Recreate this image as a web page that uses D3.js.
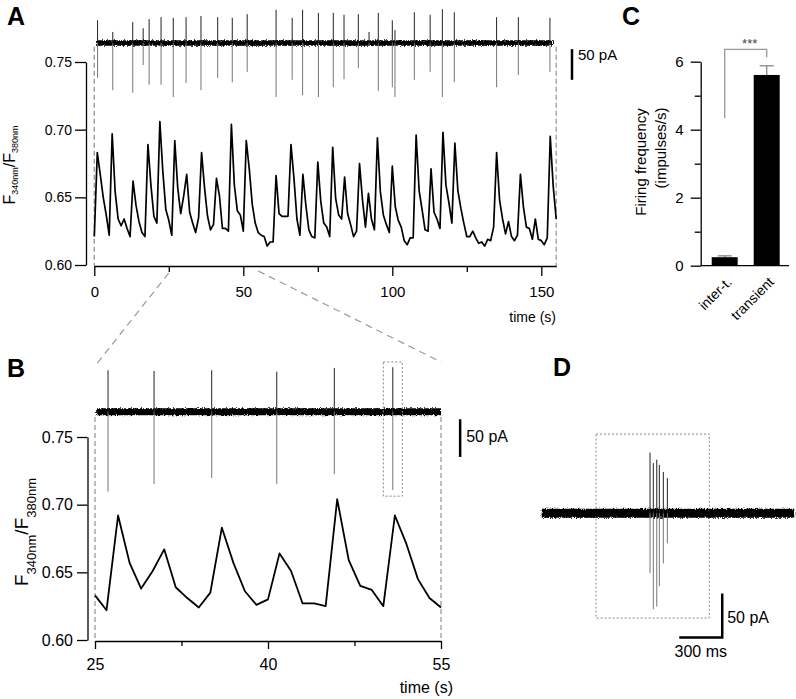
<!DOCTYPE html>
<html>
<head>
<meta charset="utf-8">
<script src="https://cdn.jsdelivr.net/npm/d3@7"></script>
<style>
  body { margin: 0; background: #fff; }
  svg { display: block; }
</style>
</head>
<body>
<svg id="fig" width="796" height="699"></svg>
<script>
// ---- data ----
// Fura-2 ratio, one sample per second, t = 0..155 s
const caRatio = [
  0.621, 0.683, 0.667, 0.650, 0.637, 0.622, 0.697, 0.654, 0.634, 0.629,
  0.634, 0.627, 0.621, 0.662, 0.644, 0.632, 0.624, 0.621, 0.689, 0.659,
  0.636, 0.631, 0.706, 0.669, 0.641, 0.633, 0.622, 0.692, 0.657, 0.638,
  0.651, 0.667, 0.639, 0.631, 0.624, 0.635, 0.683, 0.657, 0.636, 0.626,
  0.630, 0.664, 0.651, 0.627, 0.627, 0.625, 0.704, 0.659, 0.640, 0.637,
  0.625, 0.692, 0.671, 0.645, 0.631, 0.624, 0.622, 0.621, 0.614, 0.617,
  0.617, 0.666, 0.638, 0.636, 0.636, 0.636, 0.689, 0.664, 0.634, 0.622,
  0.667, 0.644, 0.626, 0.621, 0.620, 0.676, 0.647, 0.631, 0.628, 0.621,
  0.687, 0.649, 0.637, 0.634, 0.665, 0.638, 0.630, 0.621, 0.625, 0.675,
  0.648, 0.628, 0.653, 0.634, 0.626, 0.694, 0.654, 0.637, 0.630, 0.624,
  0.673, 0.643, 0.633, 0.628, 0.618, 0.615, 0.620, 0.620, 0.696, 0.655,
  0.641, 0.626, 0.625, 0.671, 0.639, 0.634, 0.627, 0.698, 0.659, 0.646,
  0.631, 0.690, 0.655, 0.642, 0.631, 0.621, 0.621, 0.625, 0.620, 0.616,
  0.617, 0.614, 0.619, 0.618, 0.628, 0.683, 0.648, 0.634, 0.623, 0.632,
  0.621, 0.618, 0.622, 0.667, 0.643, 0.628, 0.627, 0.619, 0.634, 0.619,
  0.618, 0.615, 0.620, 0.695, 0.658, 0.634
];

// cell-attached spikes in A (s, pA above / below baseline)
const aSpikeTime = [1.1, 6.2, 12.9, 16.4, 18.4, 22.4, 26.5, 30.8, 35.8, 41.4,
  46.3, 51.3, 61.0, 66.4, 69.9, 75.2, 80.2, 83.8, 88.6, 92.2,
  95.3, 100.0, 100.9, 107.4, 112.7, 116.8, 120.8, 135.0, 142.3, 152.9];
const aSpikeUp = [37, 18, 34, 24, 39, 42, 41, 42, 44, 42, 41, 47, 54, 41, 54,
  49, 49, 46, 47, 18, 49, 37, 21, 50, 46, 55, 50, 42, 42, 41];
const aSpikeDown = [57, 77, 81, 36, 68, 68, 88, 65, 77, 57, 64, 47, 88, 60, 85,
  88, 72, 59, 41, 5, 78, 72, 88, 60, 47, 88, 64, 72, 52, 47];
const aTraceSpan = [0.6, 153.9];

// B: zoom 25-55 s
const bWindow = [25, 55];
const bSpikeTime = [26.13, 30.12, 35.12, 40.76, 45.75, 50.82];
const bSpikeUp = [55, 54, 55, 53, 58, 59];
const bSpikeDown = [106, 96, 88, 96, 83, 104];
const bTraceSpan = [25.1, 55];

// C: firing frequency
const cCats = ['inter-t.', 'transient'];
const cMean = [0.25, 5.61];
const cSem = [0.04, 0.27];

// D: single burst (ms, pA)
const dSpikeTime = [756, 779, 803, 821, 849, 877];
const dSpikeUp = [69, 57, 61, 55, 47, 40];
const dSpikeDown = [68, 109, 106, 83, 57, 34];
const dTraceSpan = [0, 1763];

const aTicks = [0, 50, 100, 150], aMinor = [25, 75, 125];
const bTicks = [25, 40, 55], bMinor = [32.5, 47.5];
const ratioTicks = [0.60, 0.65, 0.70, 0.75];
const cTicks = [0, 2, 4, 6], cMinor = [1, 3, 5];

// ---- drawing ----
const font = '"Liberation Sans", Arial, Helvetica, sans-serif';
const svg = d3.select('#fig').attr('font-family', font);
const grey = '#999';

// rough edge for the noisy current baselines
const filt = svg.append('defs').append('filter').attr('id', 'noisy')
  .attr('filterUnits', 'userSpaceOnUse')
  .attr('x', 0).attr('y', 0).attr('width', 796).attr('height', 699);
filt.append('feTurbulence').attr('type', 'fractalNoise')
  .attr('baseFrequency', '0.9 0.6').attr('numOctaves', 2).attr('seed', 3)
  .attr('result', 'n');
filt.append('feDisplacementMap').attr('in', 'SourceGraphic').attr('in2', 'n')
  .attr('scale', 4).attr('xChannelSelector', 'R').attr('yChannelSelector', 'G');

function styleAxis(g, size) {
  g.attr('font-family', font).attr('font-size', size);
  g.select('.domain').attr('stroke', '#000').attr('stroke-width', 1.3);
  g.selectAll('.tick line').attr('stroke', '#000').attr('stroke-width', 1.3);
  g.selectAll('.tick text').attr('fill', '#000');
}

function panelLabel(txt, x, y) {
  svg.append('text').attr('x', x).attr('y', y)
    .style('font-size', '25px').style('font-weight', 'bold').text(txt);
}

function drawCurrent(x, y, span, times, up, down, width) {
  svg.append('line')
    .attr('x1', x(span[0])).attr('x2', x(span[1]))
    .attr('y1', y(0)).attr('y2', y(0))
    .attr('stroke', '#000').attr('stroke-width', width)
    .attr('filter', 'url(#noisy)');
  times.forEach((t, i) => {
    svg.append('line').attr('x1', x(t)).attr('x2', x(t))
      .attr('y1', y(0)).attr('y2', y(up[i]))
      .attr('stroke', '#222').attr('stroke-width', 1);
    svg.append('line').attr('x1', x(t)).attr('x2', x(t))
      .attr('y1', y(0)).attr('y2', y(-down[i]))
      .attr('stroke', '#777').attr('stroke-width', 1);
  });
}

function scaleBarV(x, y, t, pA0, pA1, label, size, dx, dy) {
  svg.append('line').attr('x1', x(t)).attr('x2', x(t))
    .attr('y1', y(pA0)).attr('y2', y(pA1))
    .attr('stroke', '#000').attr('stroke-width', 2.5);
  svg.append('text').attr('x', x(t) + dx).attr('y', y(pA0) + dy)
    .style('font-size', size + 'px').text(label);
}

// ===== Panel A =====
const xA = d3.scaleLinear().domain([0, 155]).range([94.3, 556.2]);
const yA = d3.scaleLinear().domain([0.60, 0.75]).range([265, 62]);
const yAcur = d3.scaleLinear().domain([-50, 50]).range([43 + 30.7, 43 - 30.7]);

panelLabel('A', 7, 25);

// recording extent
[0, 155].forEach(t => {
  svg.append('line').attr('x1', xA(t)).attr('x2', xA(t))
    .attr('y1', yAcur(-6)).attr('y2', 266)
    .attr('stroke', grey).attr('stroke-width', 1.3).attr('stroke-dasharray', '5,3');
});

drawCurrent(xA, yAcur, aTraceSpan, aSpikeTime, aSpikeUp, aSpikeDown, 5.5);
scaleBarV(xA, yAcur, 160.3, -10, -60, '50 pA', 15, 6, 11);

svg.append('path')
  .datum(caRatio)
  .attr('fill', 'none').attr('stroke', '#000').attr('stroke-width', 1.7)
  .attr('stroke-linejoin', 'round')
  .attr('d', d3.line().x((d, i) => xA(i)).y(d => yA(d)));

const gAy = svg.append('g').attr('transform', 'translate(86,0)')
  .call(d3.axisLeft(yA).tickValues(ratioTicks).tickFormat(d3.format('.2f'))
    .tickSize(11).tickPadding(3).tickSizeOuter(0));
styleAxis(gAy, 14);

const gAx = svg.append('g').attr('transform', 'translate(0,266)')
  .call(d3.axisBottom(xA).tickValues(aTicks).tickSize(10).tickPadding(10).tickSizeOuter(0));
styleAxis(gAx, 15);
const gAxm = svg.append('g').attr('transform', 'translate(0,266)')
  .call(d3.axisBottom(xA).tickValues(aMinor).tickSize(6).tickFormat(''));
gAxm.select('.domain').remove();
styleAxis(gAxm, 14);

svg.append('text').attr('x', 556).attr('y', 322).attr('text-anchor', 'end')
  .style('font-size', '14px').text('time (s)');

const aLab = svg.append('text').attr('transform', 'translate(15,165) rotate(-90)')
  .attr('text-anchor', 'middle').style('font-size', '16px');
aLab.append('tspan').text('F');
aLab.append('tspan').attr('dy', 3.3).style('font-size', '9px').text('340nm');
aLab.append('tspan').attr('dy', -3.3).text('/F');
aLab.append('tspan').attr('dy', 3.3).style('font-size', '9px').text('380nm');

// ===== Panel B =====
const xB = d3.scaleLinear().domain(bWindow).range([95, 441]);
const yB = d3.scaleLinear().domain([0.60, 0.75]).range([640, 437]);
const yBcur = d3.scaleLinear().domain([-100, 100]).range([411.7 + 75.4, 411.7 - 75.4]);

// zoom guides from A
svg.append('line').attr('x1', xA(bWindow[0])).attr('y1', 273)
  .attr('x2', xB(bWindow[0])).attr('y2', 366)
  .attr('stroke', grey).attr('stroke-width', 1.2).attr('stroke-dasharray', '7,5');
svg.append('line').attr('x1', xA(bWindow[1])).attr('y1', 271)
  .attr('x2', xB(bWindow[1])).attr('y2', 362)
  .attr('stroke', grey).attr('stroke-width', 1.2).attr('stroke-dasharray', '7,5');

panelLabel('B', 7, 377);

bWindow.forEach(t => {
  svg.append('line').attr('x1', xB(t)).attr('x2', xB(t))
    .attr('y1', yBcur(-7)).attr('y2', 641)
    .attr('stroke', grey).attr('stroke-width', 1.3).attr('stroke-dasharray', '5,3');
});

drawCurrent(xB, yBcur, bTraceSpan, bSpikeTime, bSpikeUp, bSpikeDown, 7);
scaleBarV(xB, yBcur, 56.66, -10, -60, '50 pA', 16, 6, 23);

// dotted box around the last spike
svg.append('rect')
  .attr('x', xB(50.0)).attr('y', yBcur(66))
  .attr('width', xB(51.65) - xB(50.0)).attr('height', yBcur(-112) - yBcur(66))
  .attr('fill', 'none').attr('stroke', '#888').attr('stroke-width', 1)
  .attr('stroke-dasharray', '2,2');

const bIdx = d3.range(bWindow[0], bWindow[1] + 1);
svg.append('path')
  .datum(bIdx)
  .attr('fill', 'none').attr('stroke', '#000').attr('stroke-width', 1.8)
  .attr('stroke-linejoin', 'round')
  .attr('d', d3.line().x(t => xB(t)).y(t => yB(caRatio[t])));

const gBy = svg.append('g').attr('transform', 'translate(87.5,0)')
  .call(d3.axisLeft(yB).tickValues(ratioTicks).tickFormat(d3.format('.2f'))
    .tickSize(10.5).tickPadding(4).tickSizeOuter(0));
styleAxis(gBy, 16);

const gBx = svg.append('g').attr('transform', 'translate(0,641)')
  .call(d3.axisBottom(xB).tickValues(bTicks).tickSize(8).tickPadding(9.5).tickSizeOuter(0));
styleAxis(gBx, 16);
const gBxm = svg.append('g').attr('transform', 'translate(0,641)')
  .call(d3.axisBottom(xB).tickValues(bMinor).tickSize(5).tickFormat(''));
gBxm.select('.domain').remove();
styleAxis(gBxm, 16);

svg.append('text').attr('x', 453).attr('y', 693).attr('text-anchor', 'end')
  .style('font-size', '16px').text('time (s)');

const bLab = svg.append('text').attr('transform', 'translate(28,532) rotate(-90)')
  .attr('text-anchor', 'middle').style('font-size', '19px');
bLab.append('tspan').text('F');
bLab.append('tspan').attr('dy', 8).style('font-size', '13px').text('340nm');
bLab.append('tspan').attr('dy', -8).text('/F');
bLab.append('tspan').attr('dy', 8).style('font-size', '13px').text('380nm');

// ===== Panel C =====
const xC = d3.scalePoint().domain(cCats).range([724.7, 766.7]);
const yC = d3.scaleLinear().domain([0, 6]).range([265.7, 61.7]);
const barW = 26;

panelLabel('C', 622, 25);

// significance bracket
svg.append('path')
  .attr('d', `M${xC(cCats[0])},${yC(4.34)}V${yC(6.36)}H${xC(cCats[1])}V${yC(6.13)}`)
  .attr('fill', 'none').attr('stroke', grey).attr('stroke-width', 1.3);
svg.append('text')
  .attr('x', (xC(cCats[0]) + xC(cCats[1])) / 2 + 4).attr('y', 48)
  .attr('text-anchor', 'middle').attr('fill', '#444')
  .style('font-size', '13px').text('***');

// error bars
cCats.forEach((c, i) => {
  const x = xC(c);
  svg.append('line').attr('x1', x).attr('x2', x)
    .attr('y1', yC(cMean[i])).attr('y2', yC(cMean[i] + cSem[i]))
    .attr('stroke', '#888').attr('stroke-width', 1.3);
  svg.append('line').attr('x1', x - 7).attr('x2', x + 7)
    .attr('y1', yC(cMean[i] + cSem[i])).attr('y2', yC(cMean[i] + cSem[i]))
    .attr('stroke', '#888').attr('stroke-width', 1.3);
});

svg.selectAll('.cbar')
  .data(cCats)
  .enter()
  .append('rect')
  .attr('class', 'cbar')
  .attr('x', d => xC(d) - barW / 2)
  .attr('y', (d, i) => yC(cMean[i]))
  .attr('width', barW)
  .attr('height', (d, i) => yC(0) - yC(cMean[i]))
  .attr('fill', '#000');

const gCy = svg.append('g').attr('transform', 'translate(700.7,0)')
  .call(d3.axisLeft(yC).tickValues(cTicks).tickFormat(d3.format('d'))
    .tickSize(10).tickPadding(7).tickSizeOuter(0));
styleAxis(gCy, 15);
const gCym = svg.append('g').attr('transform', 'translate(700.7,0)')
  .call(d3.axisLeft(yC).tickValues(cMinor).tickSize(6).tickFormat(''));
gCym.select('.domain').remove();
styleAxis(gCym, 15);

svg.append('line').attr('x1', 700.7).attr('x2', 789)
  .attr('y1', yC(0)).attr('y2', yC(0))
  .attr('stroke', '#000').attr('stroke-width', 1.3);

cCats.forEach(c => {
  svg.append('text')
    .attr('transform', `translate(${xC(c) + 8},283) rotate(-45)`)
    .attr('text-anchor', 'end').style('font-size', '14px').text(c);
});

svg.append('text').attr('transform', 'translate(646,162) rotate(-90)')
  .attr('text-anchor', 'middle').style('font-size', '15px').text('Firing frequency');
svg.append('text').attr('transform', 'translate(666,148) rotate(-90)')
  .attr('text-anchor', 'middle').style('font-size', '15px').text('(impulses/s)');

// ===== Panel D =====
const xD = d3.scaleLinear().domain(dTraceSpan).range([541.7, 794.3]);
const yD = d3.scaleLinear().domain([-100, 100]).range([513.3 + 88, 513.3 - 88]);

panelLabel('D', 553, 376);

svg.append('rect')
  .attr('x', xD(379)).attr('y', yD(90))
  .attr('width', xD(1170) - xD(379)).attr('height', yD(-119) - yD(90))
  .attr('fill', 'none').attr('stroke', '#888').attr('stroke-width', 1)
  .attr('stroke-dasharray', '2,2');

drawCurrent(xD, yD, dTraceSpan, dSpikeTime, dSpikeUp, dSpikeDown, 9);

// scale bars 50 pA / 300 ms
svg.append('path')
  .attr('d', `M${xD(1260)},${yD(-91)}V${yD(-141)}H${xD(960)}`)
  .attr('fill', 'none').attr('stroke', '#000').attr('stroke-width', 2.5);
svg.append('text').attr('x', xD(1260) + 5).attr('y', 623)
  .style('font-size', '16px').text('50 pA');
svg.append('text').attr('x', (xD(960) + xD(1260)) / 2).attr('y', 657)
  .attr('text-anchor', 'middle').style('font-size', '16px').text('300 ms');
</script>
</body>
</html>
